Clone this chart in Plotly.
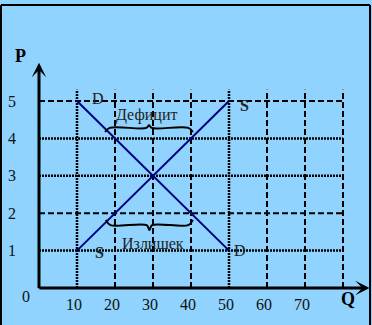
import plotly.graph_objects as go

# ---- data ----
Q_TICKS = [10, 20, 30, 40, 50, 60, 70]
P_TICKS = [1, 2, 3, 4, 5]
V_GRID = [10, 20, 30, 40, 50, 60, 70, 80]
V_GRID_STYLE = ["hatch", "dash", "dash", "dash", "hatch", "dash", "dash", "dash"]
H_GRID = [1, 2, 3, 4, 5]
H_GRID_STYLE = ["hatch", "dash", "hatch", "hatch", "dash"]

DEMAND_Q = [10, 50]
DEMAND_P = [5, 1]
SUPPLY_Q = [10, 50]
SUPPLY_P = [1, 5]

# braces: span of quantities and price level
DEFICIT_SPAN = [17.4, 40.5]
DEFICIT_LEVEL = 4.28
SURPLUS_SPAN = [17.6, 40.5]
SURPLUS_LEVEL = 1.68

BG = "#8FD3FE"
SERIF = "Liberation Serif, Times New Roman, serif"
NAVY = "#000080"

fig = go.Figure()

STYLES = {"dash": dict(dash="6px,3px", width=2),
          "hatch": dict(dash="2px,1px", width=2.5)}

Q_MAX_GRID = 80
P_TOP_GRID = 5.3

for q, st in zip(V_GRID, V_GRID_STYLE):
    fig.add_trace(go.Scatter(x=[q, q], y=[0, P_TOP_GRID], mode="lines",
                             line=dict(color="black", **STYLES[st]),
                             hoverinfo="skip", showlegend=False))
for p, st in zip(H_GRID, H_GRID_STYLE):
    fig.add_trace(go.Scatter(x=[0, Q_MAX_GRID], y=[p, p], mode="lines",
                             line=dict(color="black", **STYLES[st]),
                             hoverinfo="skip", showlegend=False))

# demand & supply
fig.add_trace(go.Scatter(x=DEMAND_Q, y=DEMAND_P, mode="lines",
                         line=dict(color=NAVY, width=2), showlegend=False))
fig.add_trace(go.Scatter(x=SUPPLY_Q, y=SUPPLY_P, mode="lines",
                         line=dict(color=NAVY, width=2), showlegend=False))


def brace(span, level, d_end, d_tip):
    q0, q1 = span
    qm = (q0 + q1) / 2
    xs = [q0, q0 + 1.2, qm - 0.7, qm, qm + 0.7, q1 - 1.2, q1]
    ys = [level + d_end, level, level, level + d_tip, level, level, level + d_end]
    return xs, ys


bx, by = brace(DEFICIT_SPAN, DEFICIT_LEVEL, -0.11, 0.07)
fig.add_trace(go.Scatter(x=bx, y=by, mode="lines", line=dict(color="black", width=2),
                         line_shape="spline", showlegend=False))
bx, by = brace(SURPLUS_SPAN, SURPLUS_LEVEL, 0.14, -0.13)
fig.add_trace(go.Scatter(x=bx, y=by, mode="lines", line=dict(color="black", width=2),
                         line_shape="spline", showlegend=False))

ann = []
# axes with arrows
ann.append(dict(x=0, y=6.02, ax=0, ay=-0.05, xref="x", yref="y", axref="x", ayref="y",
                text="", showarrow=True, arrowhead=3, arrowsize=0.8, arrowwidth=3,
                arrowcolor="black"))
ann.append(dict(x=87.0, y=0, ax=-0.3, ay=0, xref="x", yref="y", axref="x", ayref="y",
                text="", showarrow=True, arrowhead=3, arrowsize=0.8, arrowwidth=3,
                arrowcolor="black"))

# tick labels
for q in Q_TICKS:
    ann.append(dict(x=q, y=-0.45, xref="x", yref="y", text=str(q), showarrow=False,
                    xshift=-3, font=dict(family=SERIF, size=16, color="#111")))
for p in P_TICKS:
    ann.append(dict(x=-7.1, y=p, xref="x", yref="y", text=str(p), showarrow=False,
                    font=dict(family=SERIF, size=16, color="#111")))
ann.append(dict(x=-3.4, y=-0.24, xref="x", yref="y", text="0", showarrow=False,
                font=dict(family=SERIF, size=16, color="#111")))
ann.append(dict(x=-5, y=6.2, xref="x", yref="y", text="<b>P</b>", showarrow=False,
                font=dict(family=SERIF, size=18, color="black")))
ann.append(dict(x=81.3, y=-0.29, xref="x", yref="y", text="<b>Q</b>", showarrow=False,
                font=dict(family=SERIF, size=18, color="black")))

# curve labels
labels = [("D", 15.4, 5.08, False), ("S", 54.2, 4.87, True),
          ("S", 15.8, 0.96, True), ("D", 52.9, 0.99, False)]
for t, q, p, b in labels:
    ann.append(dict(x=q, y=p, xref="x", yref="y", text=f"<b>{t}</b>" if b else t,
                    showarrow=False, font=dict(family=SERIF, size=16, color="#222")))

ann.append(dict(x=28.2, y=4.63, xref="x", yref="y", text="Дефицит", showarrow=False,
                font=dict(family=SERIF, size=16, color="#222")))
ann.append(dict(x=30.0, y=1.18, xref="x", yref="y", text="Излишек", showarrow=False,
                font=dict(family=SERIF, size=16, color="#222")))

W, H = 372, 325
shapes = [
    dict(type="line", xref="paper", yref="paper", x0=1 / W, x1=1 / W, y0=0, y1=1 - 5 / H,
         line=dict(color="black", width=2)),
    dict(type="line", xref="paper", yref="paper", x0=370 / W, x1=370 / W, y0=0, y1=1 - 5 / H,
         line=dict(color="black", width=2)),
    dict(type="line", xref="paper", yref="paper", x0=1 / W, x1=370 / W, y0=1 - 5 / H, y1=1 - 5 / H,
         line=dict(color="black", width=2)),
]

fig.update_layout(
    width=W, height=H, margin=dict(l=0, r=0, t=0, b=0),
    paper_bgcolor=BG, plot_bgcolor=BG,
    xaxis=dict(range=[-39 / 3.8, (W - 39) / 3.8], visible=False, fixedrange=True),
    yaxis=dict(range=[-(H - 288) / 37.4, 288 / 37.4], visible=False, fixedrange=True),
    annotations=ann, shapes=shapes, showlegend=False,
)

fig.write_html("out.html")
